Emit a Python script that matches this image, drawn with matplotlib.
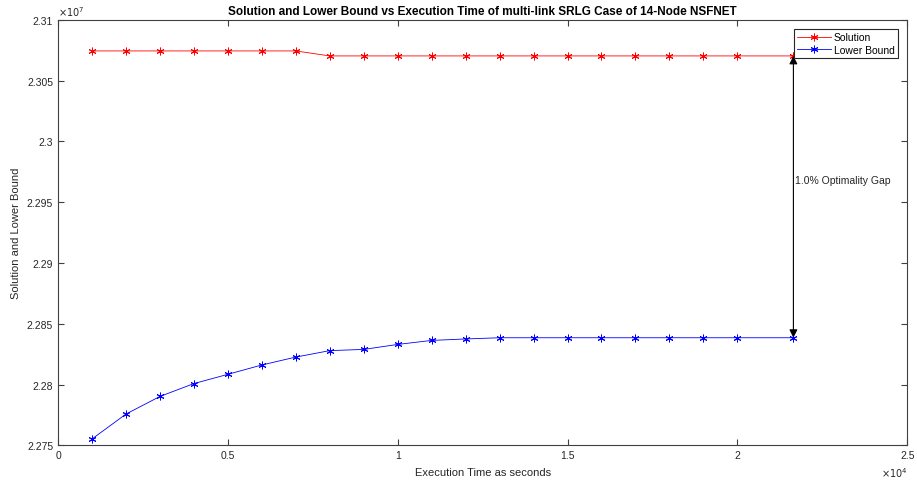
'''
Solution and lower bound vs execution time, MATLAB-style figure
'''

import numpy as np
import matplotlib.pyplot as plt
from matplotlib.ticker import FuncFormatter, MultipleLocator

plt.rcParams['font.family'] = ['Liberation Sans', 'DejaVu Sans']

# Data
exec_time = [1000, 2000, 3000, 4000, 5000, 6000, 7000, 8000, 9000, 10000,
             11000, 12000, 13000, 14000, 15000, 16000, 17000, 18000, 19000,
             20000, 21650]
solution = [2.30745e7] * 7 + [2.30704e7] * 14
lower_bound = [2.27552e7, 2.27757e7, 2.27902e7, 2.28008e7, 2.28084e7,
               2.28161e7, 2.28226e7, 2.28279e7, 2.28289e7, 2.28330e7,
               2.28363e7, 2.28375e7, 2.28385e7, 2.28385e7, 2.28385e7,
               2.28385e7, 2.28385e7, 2.28385e7, 2.28385e7, 2.28385e7,
               2.28385e7]
gap_label = '1.0% Optimality Gap'

fig = plt.figure(figsize=(9.17, 4.85), dpi=100)
ax = fig.add_axes([0.0633, 0.0798, 0.926, 0.877])

star = (6, 2, 0)  # asterisk marker like MATLAB '*'
ax.plot(exec_time, solution, color='red', lw=0.6, marker=star, ms=5.5,
        mew=0.7, label='Solution')
ax.plot(exec_time, lower_bound, color='blue', lw=0.6, marker=star, ms=5.5,
        mew=0.7, label='Lower Bound')

# double arrow showing the gap at the last point
ax.annotate('', xy=(exec_time[-1], solution[-1]),
            xytext=(exec_time[-1], lower_bound[-1]),
            arrowprops=dict(arrowstyle='<|-|>', color='black', lw=0.8,
                            mutation_scale=12, shrinkA=0, shrinkB=0))
ax.text(exec_time[-1] + 50, 2.29682e7, gap_label, fontsize=7.5,
        color='0.15', va='center', ha='left')

ax.set_xlim(0, 25000)
ax.set_ylim(2.275e7, 2.31e7)
ax.xaxis.set_major_locator(MultipleLocator(5000))
ax.yaxis.set_major_locator(MultipleLocator(0.005e7))
ax.xaxis.set_major_formatter(FuncFormatter(lambda v, p: '%g' % round(v / 1e4, 4)))
ax.yaxis.set_major_formatter(FuncFormatter(lambda v, p: '%g' % round(v / 1e7, 4)))

ax.tick_params(direction='in', top=True, right=True, length=4, width=0.8,
               colors='0.25', labelsize=7.5, labelcolor='0.15')
for s in ax.spines.values():
    s.set_color('0.25')
    s.set_linewidth(0.8)

ax.text(0.0, 1.005, r'$\times10^{7}$', transform=ax.transAxes, fontsize=7,
        color='0.15', ha='left', va='bottom')
ax.text(1.0, -0.064, r'$\times10^{4}$', transform=ax.transAxes, fontsize=7,
        color='0.15', ha='right', va='center')

ax.set_xlabel('Execution Time as seconds', fontsize=8, color='0.15', labelpad=5)
ax.set_ylabel('Solution and Lower Bound', fontsize=8, color='0.15', labelpad=4)
ax.set_title('Solution and Lower Bound vs Execution Time of multi-link SRLG Case of 14-Node NSFNET',
             fontsize=8.5, fontweight='bold', pad=4)

leg = ax.legend(loc='upper right', fontsize=7.5, fancybox=False,
                edgecolor='0.15', framealpha=1, borderpad=0.3,
                handlelength=3.2, labelspacing=0.2, handletextpad=0.3,
                borderaxespad=0.9)
leg.get_frame().set_linewidth(0.8)

plt.savefig('out.png', dpi=100)
